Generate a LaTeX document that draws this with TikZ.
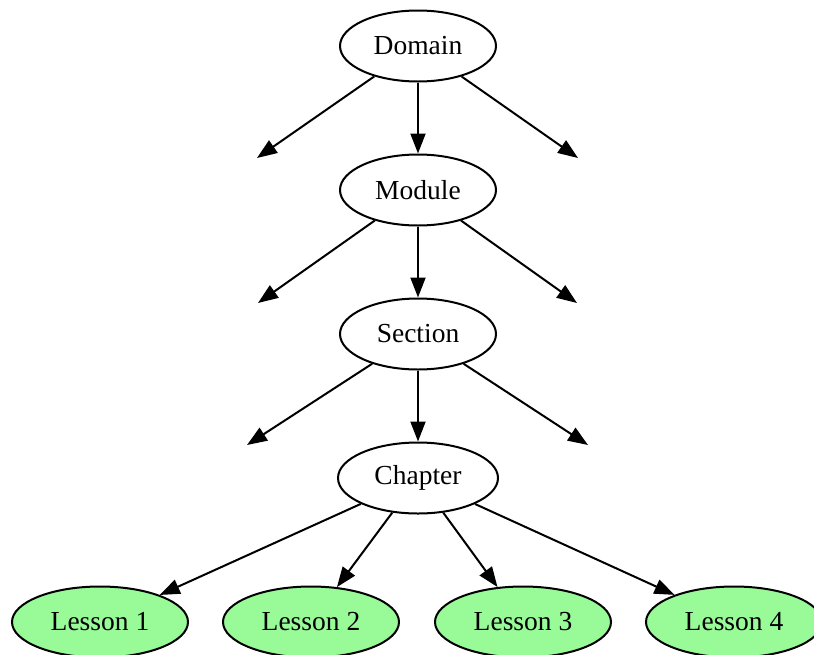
\documentclass[tikz,border=0pt]{standalone}
\usepackage{fontspec}
\setmainfont{Liberation Serif}
\usetikzlibrary{shapes.geometric,arrows.meta}
\definecolor{palegreen}{HTML}{98FB98}
\begin{document}
\begin{tikzpicture}[x=1pt,y=-1pt,
  every node/.style={font=\fontsize{27.5}{32}\selectfont},
  topnode/.style={ellipse,draw,line width=2pt,inner sep=0pt,minimum width=156pt,minimum height=71pt},
  leaf/.style={ellipse,draw,line width=2pt,fill=palegreen,inner sep=0pt,minimum width=176pt,minimum height=71pt},
  edge/.style={line width=2pt,-{Triangle[length=20pt,width=15pt]}}]
\useasboundingbox (0,0) rectangle (814,654);
\clip (0,0) rectangle (814,654);
\node[topnode] (dom) at (418,46) {Domain};
\node[topnode] (mod) at (418,190) {Module};
\node[topnode] (sec) at (418,334) {Section};
\node[topnode,minimum width=160pt] (cha) at (418,478) {Chapter};
\node[leaf] (l1) at (100,622) {Lesson 1};
\node[leaf] (l2) at (311,622) {Lesson 2};
\node[leaf] (l3) at (523,622) {Lesson 3};
\node[leaf] (l4) at (734,622) {Lesson 4};
\coordinate (d1) at (257,158);
\coordinate (d2) at (578,158);
\coordinate (m1) at (258,303);
\coordinate (m2) at (577,303);
\coordinate (s1) at (247,445);
\coordinate (s2) at (588,445);
\draw[edge] (dom) -- (d1);
\draw[edge] (dom) -- (mod);
\draw[edge] (dom) -- (d2);
\draw[edge] (mod) -- (m1);
\draw[edge] (mod) -- (sec);
\draw[edge] (mod) -- (m2);
\draw[edge] (sec) -- (s1);
\draw[edge] (sec) -- (cha);
\draw[edge] (sec) -- (s2);
\draw[edge] (cha) -- (l1);
\draw[edge] (cha) -- (l2);
\draw[edge] (cha) -- (l3);
\draw[edge] (cha) -- (l4);
\end{tikzpicture}
\end{document}
